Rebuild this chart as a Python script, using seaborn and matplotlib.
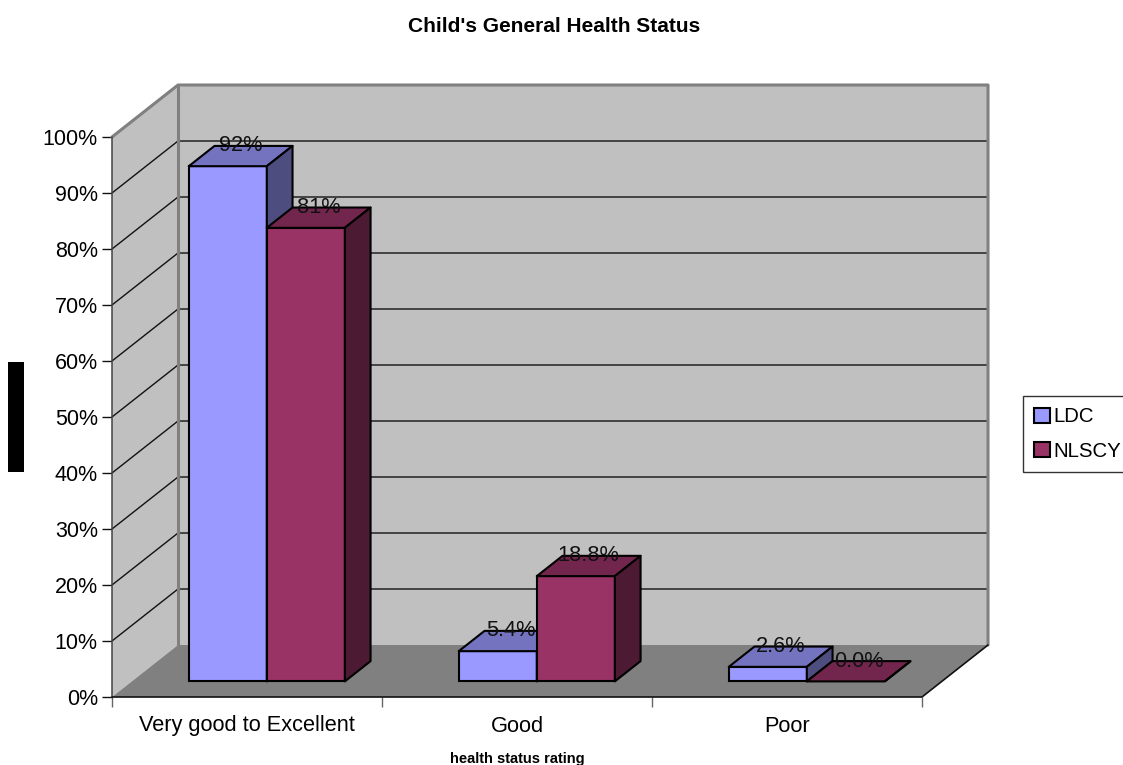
import matplotlib
matplotlib.use("Agg")
import matplotlib.pyplot as plt
from matplotlib.colors import to_rgb
from matplotlib.patches import Polygon, Rectangle
import pandas as pd
import seaborn as sns

categories = ["Very good to Excellent", "Good", "Poor"]
series_names = ["LDC", "NLSCY"]
ldc_values = [92, 5.4, 2.6]
nlscy_values = [81, 18.8, 0.0]
ldc_labels = ["92%", "5.4%", "2.6%"]
nlscy_labels = ["81%", "18.8%", "0.0%"]
y_ticks = [0, 10, 20, 30, 40, 50, 60, 70, 80, 90, 100]

W, H = 1123, 765
# front plane of the fake 3d box, in pixels
LEFT, RIGHT, BOTTOM, TOP = 112, 922, 697, 137
WALL = "#C0C0C0"
FLOOR = "#808080"
colors = {"LDC": "#9999FF", "NLSCY": "#993366"}


def shade(col, k):
    return tuple(c * k for c in to_rgb(col))


def main():
    sns.set_theme(style="white")
    plt.rcParams["font.family"] = ["Liberation Sans", "DejaVu Sans"]

    fig = plt.figure(figsize=(W / 100, H / 100), dpi=100, facecolor="white")
    ax = fig.add_axes([LEFT / W, 1 - BOTTOM / H, (RIGHT - LEFT) / W, (BOTTOM - TOP) / H])

    df = pd.DataFrame({
        "category": categories * 2,
        "series": ["LDC"] * 3 + ["NLSCY"] * 3,
        "value": ldc_values + nlscy_values,
    })
    sns.barplot(data=df, x="category", y="value", hue="series", order=categories,
                hue_order=series_names, palette=colors, width=0.578, gap=0,
                saturation=1, edgecolor="black", linewidth=1.5, ax=ax, zorder=5)
    ax.set_xlim(-0.5, 2.5)
    ax.set_ylim(0, 100)
    ax.patch.set_visible(False)

    # depth vector of the box in data units
    dx = 66 / ((RIGHT - LEFT) / 3)
    dy = 52 / ((BOTTOM - TOP) / 100)
    x0, x1 = ax.get_xlim()

    def poly(pts, fc, z, ec="none", lw=0):
        ax.add_patch(Polygon(pts, closed=True, facecolor=fc, edgecolor=ec, linewidth=lw,
                             zorder=z, clip_on=False, joinstyle="round"))

    # walls and floor
    poly([(x0 + dx, dy), (x1 + dx, dy), (x1 + dx, 100 + dy), (x0 + dx, 100 + dy)], WALL, 1)
    poly([(x0, 0), (x0 + dx, dy), (x0 + dx, 100 + dy), (x0, 100)], WALL, 1)
    poly([(x0, 0), (x1, 0), (x1 + dx, dy), (x0 + dx, dy)], FLOOR, 2)

    for t in y_ticks[1:]:
        ax.plot([x0, x0 + dx, x1 + dx], [t, t + dy, t + dy], color="#111111", lw=1,
                zorder=3, clip_on=False)

    edge = dict(color=FLOOR, lw=2.2, zorder=4, clip_on=False, solid_capstyle="round")
    ax.plot([x0, x0 + dx, x1 + dx, x1 + dx], [100, 100 + dy, 100 + dy, dy], **edge)
    ax.plot([x0 + dx, x0 + dx], [dy, 100 + dy], **edge)
    ax.plot([x0, x0], [0, 100], color="#444444", lw=1.1, zorder=4, clip_on=False)
    ax.plot([x0, x1, x1 + dx], [0, 0, dy], color="#111111", lw=1.2, zorder=4, clip_on=False)

    # push the bars back onto the floor, then add the top and side faces
    front, depth = 0.3, 0.39
    bars = [p for c in ax.containers for p in c]
    all_labels = ldc_labels + nlscy_labels
    all_colors = [colors["LDC"]] * 3 + [colors["NLSCY"]] * 3
    for p, lab, col in zip(bars, all_labels, all_colors):
        p.set_x(p.get_x() + front * dx)
        p.set_y(front * dy)
        p.set_clip_on(False)
        xa, xb = p.get_x(), p.get_x() + p.get_width()
        ya, yb = p.get_y(), p.get_y() + p.get_height()
        ox, oy = depth * dx, depth * dy
        z = 5 + 0.1 * (p.get_x() + 1)
        p.set_zorder(z)
        if p.get_height() == 0:
            p.set_visible(False)
        poly([(xa, yb), (xb, yb), (xb + ox, yb + oy), (xa + ox, yb + oy)], shade(col, 0.75),
             z, "black", 1.5)
        poly([(xb, ya), (xb + ox, ya + oy), (xb + ox, yb + oy), (xb, yb)], shade(col, 0.5),
             z, "black", 1.5)
        ax.text((xa + xb) / 2 + ox / 2, yb + oy, lab, ha="center", va="center",
                fontsize=15.7, color="#111111", zorder=20, clip_on=False)

    # axes decoration
    for s in ax.spines.values():
        s.set_visible(False)
    ax.set_yticks(y_ticks)
    ax.set_yticklabels([f"{t}%" for t in y_ticks], fontsize=15.5, color="black")
    ax.set_xticks([-0.5, 0.5, 1.5, 2.5], labels=[""] * 4)
    ax.tick_params(axis="y", left=True, length=7.2, width=1, color="#111111", pad=3)
    ax.tick_params(axis="x", bottom=True, length=7.2, width=1, color="#666666")
    for i, c in enumerate(categories):
        ax.annotate(c, (i, 0), xytext=(0, -29), xycoords="data", textcoords="offset pixels",
                    ha="center", va="center", fontsize=15.7, color="black")

    ax.set_xlabel("")
    ax.set_ylabel("")
    fig.text(517 / W, 1 - 759 / H, "health status rating", ha="center", va="center",
             fontsize=10.5, fontweight="bold", color="black")
    fig.text(554 / W, 1 - 26 / H, "Child's General Health Status", ha="center", va="center",
             fontsize=15, fontweight="bold", color="black")

    # blacked-out axis title on the left
    fig.add_artist(Rectangle((8 / W, 1 - 472 / H), 16 / W, 110 / H, transform=fig.transFigure,
                             facecolor="black", edgecolor="none"))

    handles, labels = ax.get_legend_handles_labels()
    ax.get_legend().remove()
    leg = fig.legend(handles, labels, loc="center left", bbox_to_anchor=(1023 / W, 1 - 434 / H),
                     fontsize=14.7, frameon=True, fancybox=False, edgecolor="#333333",
                     facecolor="white", framealpha=1, handlelength=0.75, handleheight=0.75,
                     handletextpad=0.2, labelspacing=0.75, borderpad=0.55, borderaxespad=0,
                     labelcolor="black")
    leg.get_frame().set_linewidth(1)

    fig.savefig("out.png", dpi=100)


if __name__ == "__main__":
    main()
